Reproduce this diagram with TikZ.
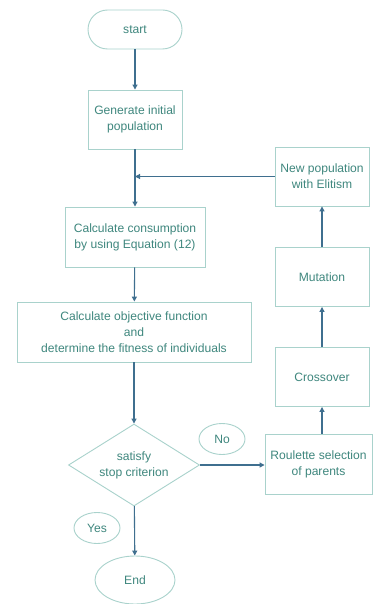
\documentclass[tikz,border=0pt]{standalone}
\usepackage{fontspec}
\setmainfont{Liberation Sans}
\usetikzlibrary{shapes.geometric,arrows.meta}
\definecolor{boxline}{HTML}{A9D2CC}
\definecolor{txt}{HTML}{3F877E}
\definecolor{arr}{HTML}{3F6F8F}
\tikzset{
  txtfont/.style={font=\fontsize{12.1}{15.8}\selectfont},
  box/.style={draw=boxline,line width=0.9pt,fill=white,text=txt,align=center,inner sep=0pt,
    minimum width=94pt,minimum height=59pt,txtfont},
  term/.style={box,rounded corners=19.5pt,minimum height=39pt},
  dec/.style={draw=boxline,line width=0.9pt,text=txt,align=center,shape=diamond,aspect=1.6,
    inner sep=0pt,minimum width=131pt,minimum height=82pt,txtfont},
  lbl/.style={draw=boxline,line width=0.9pt,text=txt,shape=ellipse,inner sep=0pt,
    minimum width=46pt,minimum height=31pt,txtfont},
  flow/.style={draw=arr,line width=1.1pt,-{Triangle[length=5pt,width=5pt]}}
}
\begin{document}
\begin{tikzpicture}[x=1pt,y=-1pt]
\useasboundingbox[fill=white] (0,0) rectangle (373,604);
\node[term] (start) at (135,29.5) {start};
\node[box] (gen) at (135,119.5) {Generate initial\\population};
\node[box,minimum width=140pt,minimum height=60pt] (cons) at (135,237) {Calculate consumption\\by using Equation (12)};
\node[box,minimum width=234pt,minimum height=60pt] (obj) at (134,332) {Calculate objective function\\and\\determine the fitness of individuals};
\node[dec] (dec) at (134,465) {satisfy\\stop criterion};
\node[lbl,minimum width=80pt,minimum height=48pt] (end) at (135,580) {End};
\node[box,minimum width=107pt,minimum height=60pt] (roul) at (318.5,464) {Roulette selection\\of parents};
\node[box] (cross) at (322,377) {Crossover};
\node[box] (mut) at (322,277) {Mutation};
\node[box] (newp) at (322,176.5) {New population\\with Elitism};
\node[lbl] (no) at (222,439) {No};
\node[lbl] (yes) at (97,528) {Yes};
\draw[flow] (start) -- (gen);
\draw[flow] (gen) -- (cons);
\draw[flow] (cons) -- (obj);
\draw[flow] (obj) -- (dec);
\draw[flow] (dec) -- (end);
\draw[flow] (dec.east) -- (roul.west |- dec.east);
\draw[flow] (cross.north |- roul.north) -- (cross.south);
\draw[flow] (cross) -- (mut);
\draw[flow] (mut) -- (newp);
\draw[flow] (newp.west) -- (newp.west -| gen.south);
\end{tikzpicture}
\end{document}
